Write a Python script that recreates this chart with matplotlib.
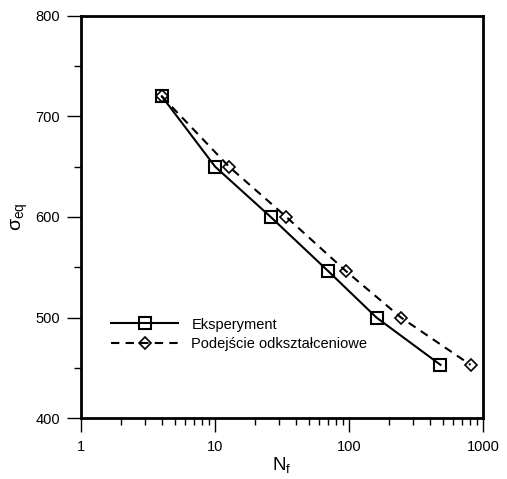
import numpy as np
import matplotlib
matplotlib.use('Agg')
import matplotlib.pyplot as plt
from matplotlib.ticker import LogLocator, FixedLocator, NullFormatter

plt.rcParams['font.family'] = ['Liberation Sans', 'DejaVu Sans']
plt.rcParams['mathtext.fontset'] = 'custom'
plt.rcParams['mathtext.rm'] = 'Liberation Sans'

nf_exp = [4, 10, 26, 70, 160, 480]
sig_exp = [720, 650, 600, 546, 500, 453]
nf_mod = [4, 12.7, 34, 95, 244, 805]
sig_mod = [720, 650, 600, 546, 500, 453]
x_ticks = [1, 10, 100, 1000]
x_labels = ['1', '10', '100', '1000']
y_ticks = [400, 500, 600, 700, 800]

fig = plt.figure(figsize=(5.07, 4.79), dpi=100)
ax = fig.add_axes([0.160, 0.127, 0.793, 0.840])

ax.plot(nf_exp, sig_exp, color='black', linewidth=1.5, marker='s', markersize=9,
        markerfacecolor='none', markeredgewidth=1.5, label='Eksperyment')
ax.plot(nf_mod, sig_mod, color='black', linewidth=1.5, dashes=(4, 3), marker='D',
        markersize=6, markerfacecolor='none', markeredgewidth=1.2,
        label='Podejście odkształceniowe')

ax.set_xscale('log')
ax.set_xlim(1, 1000)
ax.set_ylim(400, 800)
ax.set_xticks(x_ticks)
ax.set_xticklabels(x_labels)
ax.xaxis.set_minor_locator(LogLocator(base=10, subs=np.arange(2, 10)))
ax.xaxis.set_minor_formatter(NullFormatter())
ax.set_yticks(y_ticks)
ax.yaxis.set_minor_locator(FixedLocator([450, 550, 650, 750]))

for s in ax.spines.values():
    s.set_linewidth(2)
ax.tick_params(which='major', direction='out', length=10, width=1, labelsize=10.5)
ax.tick_params(axis='x', which='major', pad=6)
ax.tick_params(axis='y', which='major', pad=5)
ax.tick_params(which='minor', direction='out', length=5, width=1)

ax.set_xlabel(r'N$_\mathregular{f}$', fontsize=13.5, labelpad=1)
ax.set_ylabel(r'σ$_\mathregular{eq}$', fontsize=14, labelpad=4)

ax.legend(loc='upper left', bbox_to_anchor=(0.075, 0.25), frameon=False,
          fontsize=10.5, handlelength=4.6, handletextpad=0.9, labelspacing=0.4,
          numpoints=1, borderpad=0, borderaxespad=0)

plt.savefig('out.png', dpi=100)
